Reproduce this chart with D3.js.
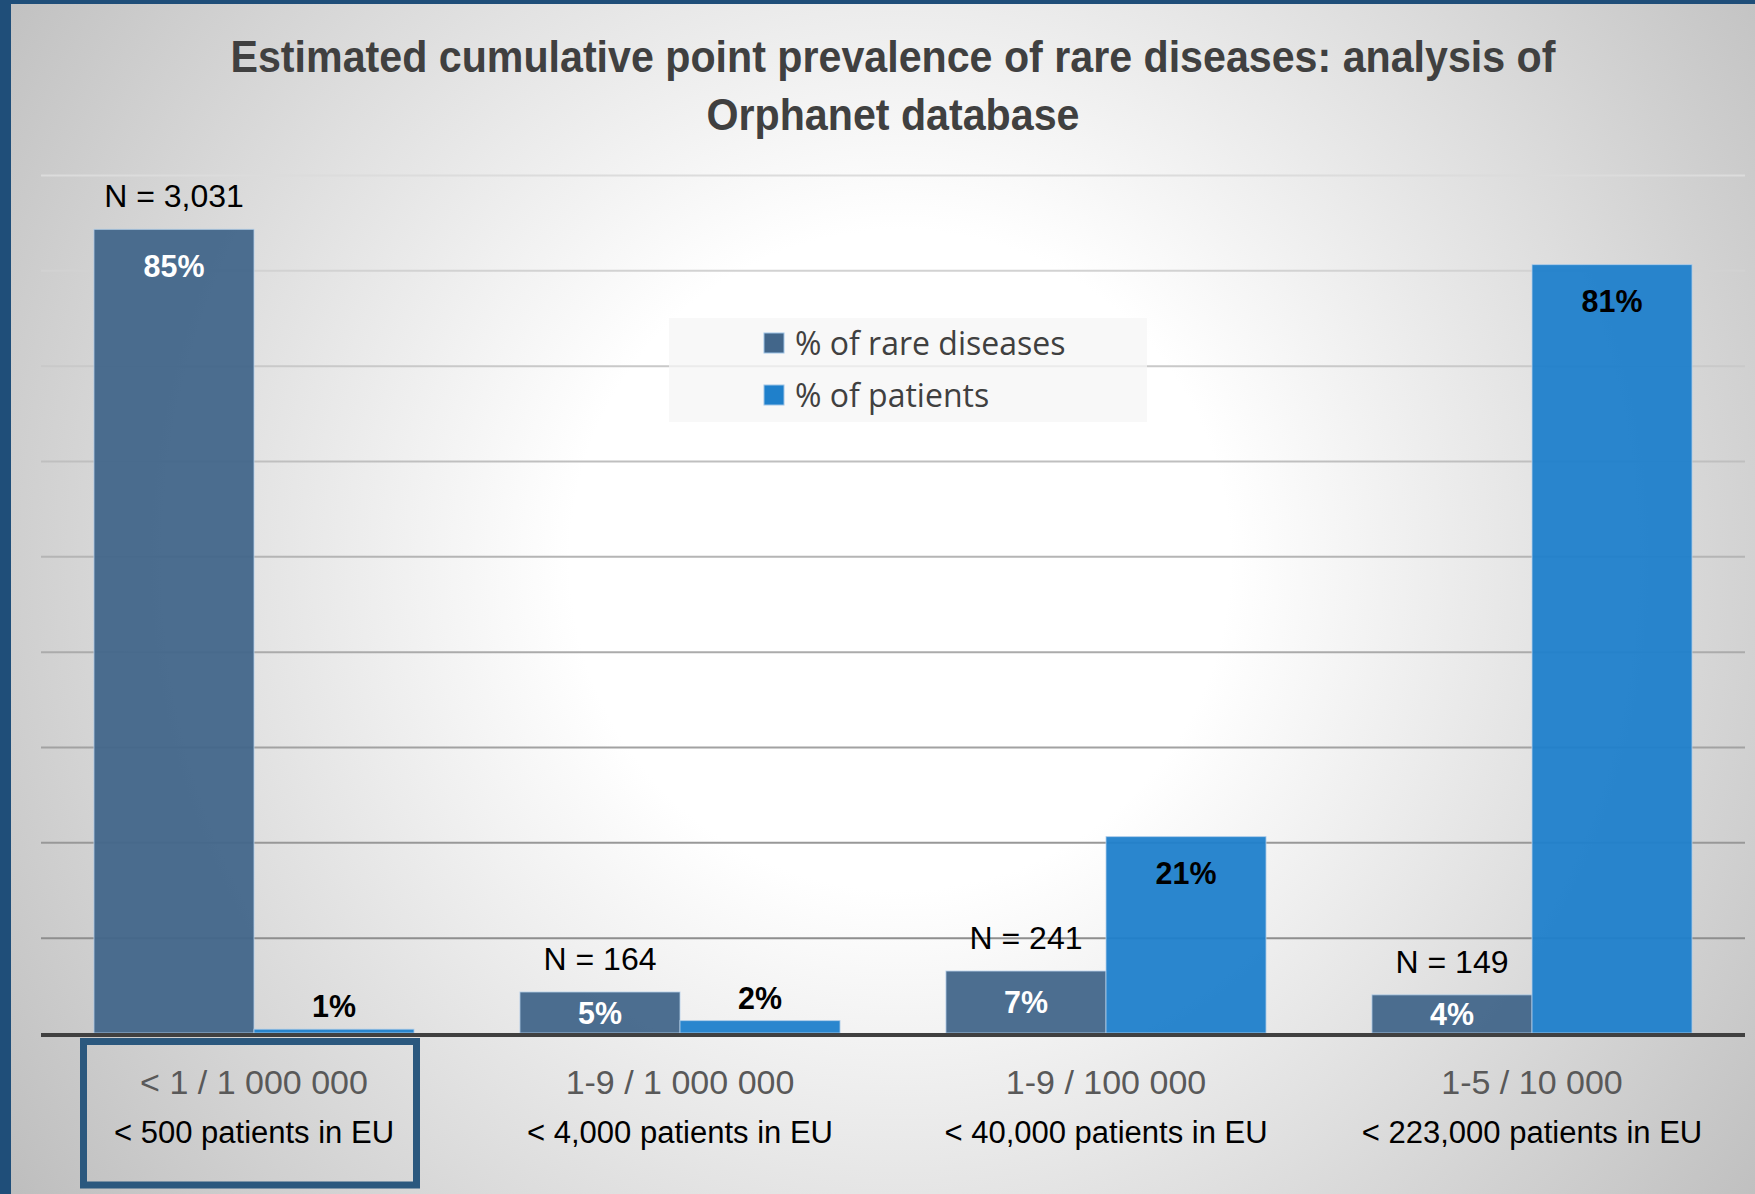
<!DOCTYPE html>
<html>
<head>
<meta charset="utf-8">
<script src="https://cdn.jsdelivr.net/npm/d3@7"></script>
<style>
  html, body { margin: 0; padding: 0; background: #fff; }
  svg { display: block; }
</style>
</head>
<body>
<script>
// Data
const categories = ["< 1 / 1 000 000", "1-9 / 1 000 000", "1-9 / 100 000", "1-5 / 10 000"]
const patientsEU = ["< 500 patients in EU", "< 4,000 patients in EU", "< 40,000 patients in EU", "< 223,000 patients in EU"]
const diseaseCounts = ["N = 3,031", "N = 164", "N = 241", "N = 149"]
const seriesNames = ["% of rare diseases", "% of patients"]
const pctRareDiseases = [84.3, 4.3, 6.5, 4.0]
const pctPatients = [0.4, 1.3, 20.6, 80.6]
const rareLabels = ["85%", "5%", "7%", "4%"]
const patientLabels = ["1%", "2%", "21%", "81%"]
const yTicks = [10, 20, 30, 40, 50, 60, 70, 80, 90]
const titleLines = ["Estimated cumulative point prevalence of rare diseases: analysis of", "Orphanet database"]

const width = 1755, height = 1194
const marginLeft = 41, marginRight = 10
const plotTop = 175, plotBottom = 1033
const colors = ["#42668a", "#1f80cb"]
const font = "'Liberation Sans', Arial, sans-serif"

const data = categories.map((c, i) => ({
	cat: c,
	values: [
		{key: seriesNames[0], v: pctRareDiseases[i], label: rareLabels[i]},
		{key: seriesNames[1], v: pctPatients[i], label: patientLabels[i]}
	]
}))

const x = d3.scaleBand().domain(categories).range([marginLeft, width - marginRight]).padding(0)
const x1 = d3.scaleBand().domain(seriesNames).range([0, x.bandwidth()]).paddingInner(0).paddingOuter(0.331)
const y = d3.scaleLinear().domain([0, 90]).range([plotBottom, plotTop])
const color = d3.scaleOrdinal(seriesNames, colors)
const gridColor = d3.scaleLinear().domain([90, 10]).range(["#dcdcdc", "#8e8e8e"])

// narrow the glyphs a bit (the original face is condensed)
const squeeze = (sel, k) => sel.each(function() {
	const w = this.getComputedTextLength()
	d3.select(this).attr("textLength", w * k).attr("lengthAdjust", "spacingAndGlyphs")
})

const svg = d3.select("body").append("svg")
	.attr("width", width)
	.attr("height", height)
	.attr("viewBox", [0, 0, width, height])

const defs = svg.append("defs")
const bg = defs.append("radialGradient")
	.attr("id", "bg")
	.attr("gradientUnits", "userSpaceOnUse")
	.attr("cx", 900).attr("cy", 560).attr("r", 1100)
bg.append("stop").attr("offset", 0).attr("stop-color", "#ffffff")
bg.append("stop").attr("offset", 0.3).attr("stop-color", "#ffffff")
bg.append("stop").attr("offset", 1).attr("stop-color", "#bdbdbd")

// background and frame
svg.append("rect").attr("width", width).attr("height", height).attr("fill", "url(#bg)")
svg.append("rect").attr("width", 11).attr("height", height).attr("fill", "#1f4e79")
svg.append("rect").attr("width", width).attr("height", 4).attr("fill", "#1f4e79")

// title
svg.append("g")
	.selectAll("text")
	.data(titleLines)
	.join("text")
	.attr("x", (marginLeft + width - marginRight) / 2)
	.attr("y", (d, i) => 72 + i * 58)
	.attr("text-anchor", "middle")
	.attr("font-family", font)
	.attr("font-weight", "bold")
	.attr("font-size", 45)
	.attr("fill", "#404040")
	.text(d => d)
	.call(squeeze, 0.915)

// gridlines
svg.append("g")
	.attr("transform", `translate(${marginLeft},0)`)
	.call(d3.axisLeft(y).tickValues(yTicks).tickSize(-(width - marginRight - marginLeft)).tickFormat(""))
	.call(g => g.select(".domain").remove())
	.call(g => g.selectAll(".tick line").attr("stroke", d => gridColor(d)).attr("stroke-width", 2))

// legend
const legend = svg.append("g").attr("transform", "translate(669,318)")
legend.append("rect")
	.attr("width", 478).attr("height", 104)
	.attr("fill", "#f6f6f6").attr("fill-opacity", 0.75)
const li = legend.selectAll("g")
	.data(seriesNames)
	.join("g")
	.attr("transform", (d, i) => `translate(95,${25 + i * 52})`)
li.append("rect")
	.attr("y", -10).attr("width", 20).attr("height", 20)
	.attr("fill", d => color(d))
	.attr("stroke", "#9dc3e6").attr("stroke-width", 1)
li.append("text")
	.attr("x", 31).attr("dy", "0.36em")
	.attr("font-family", "'Open Sans', sans-serif")
	.attr("font-size", 32)
	.attr("fill", "#404040")
	.text(d => d)

// bars
const groups = svg.append("g")
	.selectAll("g")
	.data(data)
	.join("g")
	.attr("transform", d => `translate(${x(d.cat)},0)`)

groups.selectAll("rect")
	.data(d => d.values)
	.join("rect")
	.attr("x", d => x1(d.key))
	.attr("y", d => y(d.v))
	.attr("width", x1.bandwidth())
	.attr("height", d => y(0) - y(d.v))
	.attr("fill", d => color(d.key))
	.attr("fill-opacity", 0.95)
	.attr("stroke", "#b4d0ea")
	.attr("stroke-opacity", 0.8)
	.attr("stroke-width", 1)

// value labels
groups.selectAll("text.val")
	.data(d => d.values)
	.join("text")
	.attr("class", "val")
	.attr("x", d => x1(d.key) + x1.bandwidth() / 2)
	.attr("y", d => {
		const top = y(d.v), h = y(0) - top
		if (d.key === seriesNames[1] && h < 40) return top - 23
		return Math.min(top + 36, top + h / 2)
	})
	.attr("dy", "0.35em")
	.attr("text-anchor", "middle")
	.attr("font-family", font)
	.attr("font-weight", "bold")
	.attr("font-size", 32)
	.attr("fill", d => d.key === seriesNames[0] ? "#ffffff" : "#000000")
	.text(d => d.label)
	.call(squeeze, 0.95)

// N labels above the disease bars
groups.append("text")
	.attr("x", x1(seriesNames[0]) + x1.bandwidth() / 2)
	.attr("y", (d, i) => y(pctRareDiseases[i]) - 22)
	.attr("text-anchor", "middle")
	.attr("font-family", font)
	.attr("font-size", 32)
	.attr("fill", "#000000")
	.text((d, i) => diseaseCounts[i])

// x axis line
svg.append("line")
	.attr("x1", marginLeft).attr("x2", width - marginRight)
	.attr("y1", plotBottom + 2).attr("y2", plotBottom + 2)
	.attr("stroke", "#404040").attr("stroke-width", 4)

// category labels (two lines)
const cats = svg.append("g")
	.selectAll("g")
	.data(categories)
	.join("g")
	.attr("transform", d => `translate(${x(d) + x.bandwidth() / 2},0)`)
cats.append("text")
	.attr("y", 1094)
	.attr("text-anchor", "middle")
	.attr("font-family", font)
	.attr("font-size", 34)
	.attr("fill", "#595959")
	.text(d => d)
cats.append("text")
	.attr("y", 1143)
	.attr("text-anchor", "middle")
	.attr("font-family", font)
	.attr("font-size", 31)
	.attr("fill", "#000000")
	.text((d, i) => patientsEU[i])

// highlight box around the first category
svg.append("rect")
	.attr("x", x(categories[0]) + 42.5)
	.attr("y", plotBottom + 8.5)
	.attr("width", 333)
	.attr("height", 143.5)
	.attr("fill", "none")
	.attr("stroke", "#2b587e")
	.attr("stroke-width", 7)
</script>
</body>
</html>
